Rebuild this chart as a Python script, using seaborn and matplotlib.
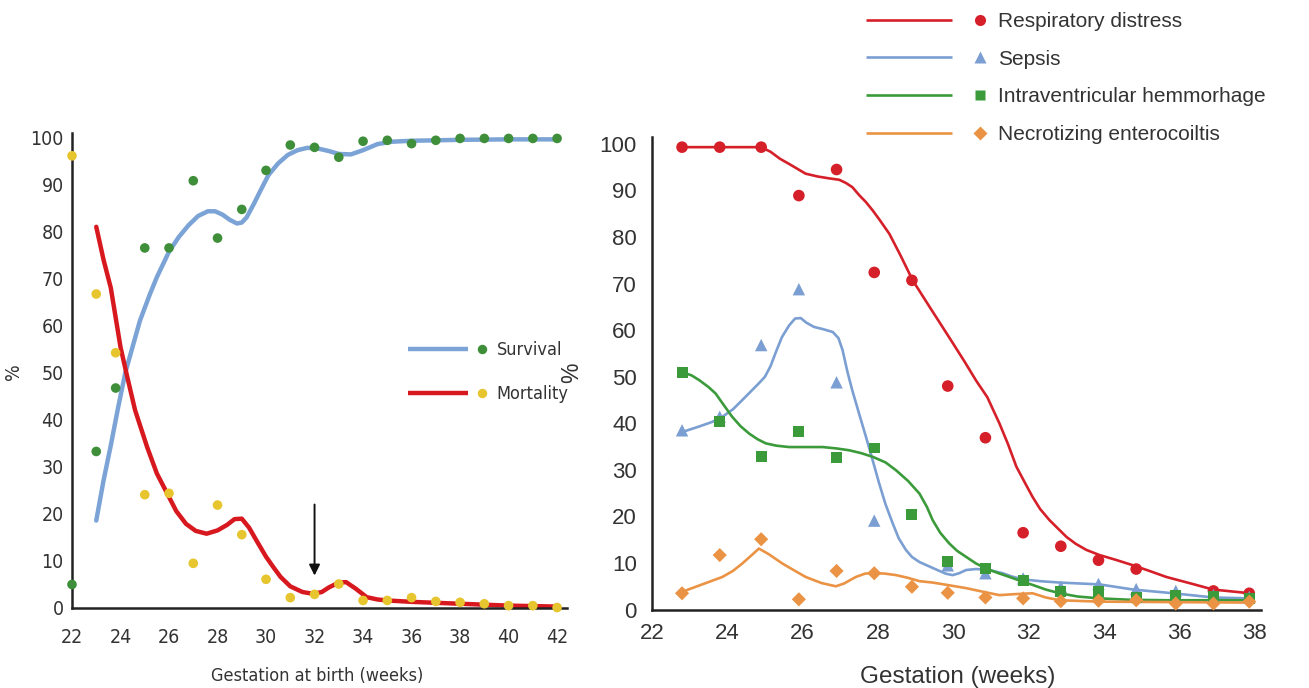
import numpy as np
import matplotlib
matplotlib.use("Agg")
import matplotlib.pyplot as plt
from matplotlib.lines import Line2D
from matplotlib.legend_handler import HandlerBase
from matplotlib import font_manager
import seaborn as sns

# ---- left panel: survival / mortality by gestation at birth
birth_weeks = [22, 23, 23.8, 25, 26, 27, 28, 29, 30, 31, 32, 33, 34, 35, 36, 37, 38, 39, 40, 41, 42]
survival_pts = [4.9, 33.2, 46.7, 76.5, 76.5, 90.8, 78.6, 84.7, 93.0, 98.4, 97.9, 95.8, 99.2, 99.4,
                98.7, 99.4, 99.8, 99.8, 99.8, 99.8, 99.8]
mortality_pts = [96.1, 66.7, 54.2, 24.0, 24.3, 9.4, 21.8, 15.5, 6.0, 2.1, 2.8, 5.0, 1.5, 1.5,
                 2.1, 1.3, 1.1, 0.8, 0.4, 0.4, 0.0]

# fitted curves, traced by eye
survival_fit_x = [23.0, 23.3, 23.6, 23.9, 24.2, 24.5, 24.8, 25.2, 25.5, 26.0, 26.4, 26.8, 27.2, 27.6,
                  27.9, 28.2, 28.5, 28.8, 29.0, 29.2, 29.5, 29.8, 30.1, 30.5, 30.9, 31.3, 31.7, 32.1,
                  32.6, 33.0, 33.5, 34.0, 34.6, 35.2, 36.0, 37.0, 38.0, 40.0, 42.0]
survival_fit_y = [18.5, 27.0, 34.5, 42.5, 50.0, 55.5, 61.0, 66.5, 70.3, 75.7, 78.8, 81.3, 83.3, 84.3,
                  84.3, 83.6, 82.5, 81.7, 81.9, 83.0, 85.9, 89.0, 92.0, 94.5, 96.3, 97.3, 97.8, 97.7,
                  97.1, 96.5, 96.4, 97.3, 98.6, 99.1, 99.3, 99.4, 99.5, 99.6, 99.6]
mortality_fit_x = [23.0, 23.3, 23.6, 24.0, 24.25, 24.6, 25.1, 25.5, 26.0, 26.3, 26.7, 27.1, 27.55,
                   28.0, 28.4, 28.7, 29.0, 29.3, 29.6, 30.0, 30.3, 30.6, 31.0, 31.5, 31.95, 32.3,
                   32.6, 33.0, 33.3, 33.7, 34.15, 34.6, 35.0, 36.0, 37.0, 38.0, 40.0, 42.0]
mortality_fit_y = [81.0, 74.0, 68.0, 55.4, 49.7, 42.0, 34.1, 28.5, 23.5, 20.5, 17.8, 16.3, 15.7,
                   16.4, 17.6, 18.8, 18.9, 17.0, 14.3, 10.8, 8.6, 6.5, 4.5, 3.3, 2.9, 3.3,
                   4.3, 5.3, 5.4, 4.0, 2.2, 1.7, 1.5, 1.2, 1.0, 0.8, 0.4, 0.2]
arrow_week = 32
arrow_from, arrow_to = 22.5, 6.2

# ---- right panel: morbidity by gestation
gest_weeks = [22.8, 23.8, 24.9, 25.9, 26.9, 27.9, 28.9, 29.85, 30.85, 31.85, 32.85, 33.85, 34.85,
              35.9, 36.9, 37.85]
resp_pts = [99.3, 99.3, 99.3, 88.9, 94.5, 72.4, 70.7, 48.0, 36.9, 16.5, 13.6, 10.6, 8.7, np.nan, 4.0, 3.5]
sepsis_pts = [38.5, 41.4, 56.8, 68.8, 48.8, 19.1, np.nan, 9.5, 7.8, 6.7, 4.9, 5.5, 4.4, 4.0, 3.1, 2.7]
ivh_pts = [51.0, 40.3, 32.8, 38.3, 32.6, 34.7, 20.5, 10.4, 8.8, 6.3, 3.8, 3.8, 2.6, 3.1, 2.8, 2.4]
nec_pts = [3.5, 11.7, 15.1, 2.2, 8.3, 7.8, 4.9, 3.6, 2.6, 2.4, 1.8, 1.9, 2.0, 1.3, 1.3, 1.7]

resp_fit_x = [22.83, 23.8, 24.9, 25.15, 25.4, 25.64, 25.85, 26.08, 26.4, 26.7, 26.97, 27.15, 27.32,
              27.5, 27.68, 27.86, 28.05, 28.3, 28.6, 28.92, 29.4, 29.9, 30.3, 30.6, 30.9, 31.22,
              31.45, 31.67, 31.9, 32.1, 32.3, 32.55, 32.8, 33.0, 33.25, 33.53, 33.88, 34.3, 34.77,
              35.2, 35.65, 36.3, 36.89, 37.87]
resp_fit_y = [99.3, 99.3, 99.3, 98.3, 96.8, 95.7, 94.7, 93.6, 93.0, 92.6, 92.3, 91.6, 90.7,
              89.0, 87.5, 85.7, 83.6, 80.7, 76.0, 70.7, 64.6, 58.3, 53.2, 49.2, 45.6, 40.0,
              35.5, 30.7, 27.2, 24.2, 21.6, 19.2, 17.2, 15.6, 14.1, 12.8, 11.7, 10.7, 9.5,
              8.3, 7.0, 5.6, 4.3, 3.5]
sepsis_fit_x = [22.83, 23.25, 23.6, 23.87, 24.15, 24.4, 24.62, 24.84, 25.0, 25.15, 25.3, 25.45,
                25.64, 25.8, 25.95, 26.1, 26.3, 26.55, 26.8, 26.95, 27.06, 27.19, 27.32, 27.5,
                27.68, 27.86, 28.03, 28.2, 28.39, 28.55, 28.74, 28.9, 29.1, 29.35, 29.6, 29.8,
                29.98, 30.15, 30.34, 30.6, 30.87, 31.1, 31.31, 31.55, 31.84, 32.3, 32.82, 33.88,
                34.77, 35.83, 36.89, 37.87]
sepsis_fit_y = [38.2, 39.3, 40.3, 41.4, 43.0, 45.0, 46.8, 48.6, 50.0, 52.3, 55.5, 58.5,
                61.0, 62.5, 62.6, 61.6, 60.7, 60.2, 59.6, 58.3, 55.7, 51.0, 47.0, 42.0,
                37.1, 32.0, 27.1, 22.6, 18.5, 15.3, 12.8, 11.3, 10.2, 9.3, 8.4, 7.7,
                7.4, 7.8, 8.5, 8.7, 8.6, 8.2, 7.8, 7.1, 6.5, 6.1, 5.8, 5.4,
                4.3, 3.5, 2.6, 2.4]
ivh_fit_x = [22.8, 23.05, 23.25, 23.5, 23.69, 23.9, 24.13, 24.35, 24.58, 24.8, 25.02, 25.3, 25.64,
             26.1, 26.53, 26.9, 27.24, 27.55, 27.86, 28.2, 28.48, 28.8, 29.1, 29.3, 29.45, 29.65,
             29.89, 30.1, 30.34, 30.6, 30.87, 31.2, 31.49, 31.8, 32.1, 32.45, 32.82, 33.3, 33.88,
             34.7, 35.65, 37.87]
ivh_fit_y = [51.0, 50.3, 49.3, 47.8, 46.4, 44.0, 41.4, 39.4, 37.8, 36.6, 35.7, 35.2, 34.9,
             34.9, 34.9, 34.6, 34.2, 33.6, 32.8, 31.6, 29.9, 27.6, 24.9, 22.0, 19.2, 16.5,
             14.2, 12.6, 11.3, 9.9, 8.8, 7.8, 7.0, 6.1, 5.3, 4.3, 3.5, 2.8, 2.4,
             2.1, 2.0, 2.0]
nec_fit_x = [22.8, 23.3, 23.87, 24.15, 24.4, 24.65, 24.84, 25.1, 25.46, 25.8, 26.08, 26.5, 26.88,
             27.1, 27.41, 27.65, 27.86, 28.2, 28.48, 28.8, 29.1, 29.45, 29.9, 30.34, 30.8, 31.22,
             31.6, 32.1, 32.45, 32.82, 33.88, 37.87]
nec_fit_y = [3.8, 5.3, 7.0, 8.3, 9.9, 11.7, 13.1, 11.9, 9.9, 8.3, 7.0, 5.7, 5.0,
             5.6, 7.0, 7.7, 7.9, 7.7, 7.4, 6.8, 6.1, 5.8, 5.2, 4.6, 3.8, 3.1,
             3.3, 3.5, 2.6, 2.0, 1.7, 1.5]

right_labels = ["Respiratory distress", "Sepsis", "Intraventricular hemmorhage", "Necrotizing enterocoiltis"]

sns.set_style("white")
REGULAR = ["Liberation Sans", "DejaVu Sans"]
plt.rcParams["font.family"] = REGULAR
TXT = "#333333"


def narrow(size):
    # condensed face for the left panel
    return font_manager.FontProperties(family=["DejaVu Sans"], stretch="condensed", size=size)


class LineDotHandler(HandlerBase):
    """legend entry drawn as a line segment followed by a separate marker"""

    def __init__(self, line_frac, dot_frac):
        super().__init__()
        self.line_frac = line_frac
        self.dot_frac = dot_frac

    def create_artists(self, legend, orig_handle, xdescent, ydescent, width, height, fontsize, trans):
        line, dot = orig_handle
        y = height / 2 - ydescent
        x0 = -xdescent
        seg = Line2D([x0, x0 + width * self.line_frac], [y, y], color=line.get_color(),
                     lw=line.get_linewidth(), solid_capstyle="butt")
        mk = Line2D([x0 + width * self.dot_frac], [y], ls="none", marker=dot.get_marker(),
                    markerfacecolor=dot.get_markerfacecolor(), markeredgecolor="none",
                    markersize=dot.get_markersize())
        seg.set_transform(trans)
        mk.set_transform(trans)
        return [seg, mk]


def style_axes(ax, xpad, ypad, size, fprop=None):
    sns.despine(ax=ax)
    for side in ["left", "bottom"]:
        ax.spines[side].set_color("#222222")
        ax.spines[side].set_linewidth(1.8)
    ax.tick_params(axis="x", length=0, pad=xpad, labelsize=size, labelcolor=TXT)
    ax.tick_params(axis="y", length=0, pad=ypad, labelsize=size, labelcolor=TXT)
    if fprop is not None:
        for lab in ax.get_xticklabels() + ax.get_yticklabels():
            lab.set_fontproperties(fprop)
    ax.grid(False)


fig = plt.figure(figsize=(13.09, 6.88), dpi=100)

# ---------------- left panel
axL = fig.add_axes([0.055, 0.117, 0.378, 0.690])
blueL, redL, greenL, yellowL = "#7ba3d6", "#d7191f", "#3f8f3a", "#e6c52e"
sns.lineplot(x=survival_fit_x, y=survival_fit_y, color=blueL, lw=3.2, estimator=None, sort=False, ax=axL)
sns.lineplot(x=mortality_fit_x, y=mortality_fit_y, color=redL, lw=3.2, estimator=None, sort=False, ax=axL)
sns.scatterplot(x=birth_weeks, y=survival_pts, color=greenL, s=48, edgecolor="none", zorder=5,
                clip_on=False, ax=axL)
sns.scatterplot(x=birth_weeks, y=mortality_pts, color=yellowL, s=48, edgecolor="none", zorder=5,
                clip_on=False, ax=axL)
axL.annotate("", xy=(arrow_week, arrow_to), xytext=(arrow_week, arrow_from),
             arrowprops=dict(arrowstyle="-|>", color="#111111", lw=1.4, mutation_scale=16))
axL.set_xlim(22, 42.4)
axL.set_ylim(0, 101)
axL.set_xticks(range(22, 43, 2))
axL.set_yticks(range(0, 101, 10))
style_axes(axL, 14.4, 6, 14, narrow(14))
axL.set_xlabel("Gestation at birth (weeks)", fontproperties=narrow(13), color=TXT)
axL.set_ylabel("%", fontproperties=narrow(14), color=TXT)
axL.xaxis.set_label_coords(0.495, -0.125)
axL.yaxis.set_label_coords(-0.099, 0.496)

hL = [(Line2D([], [], color=blueL, lw=3.2), Line2D([], [], marker="o", ls="none", markerfacecolor=greenL, markersize=6.8)),
      (Line2D([], [], color=redL, lw=3.2), Line2D([], [], marker="o", ls="none", markerfacecolor=yellowL, markersize=6.8))]
legL = fig.legend(hL, ["Survival", "Mortality"], loc="center left", bbox_to_anchor=(408 / 1309, 1 - 372 / 688),
                  frameon=False, borderpad=0, borderaxespad=0, handlelength=4.3, handletextpad=0.6,
                  labelspacing=1.45, handler_map={tuple: LineDotHandler(0.77, 0.947)},
                  prop=narrow(13))
for t in legL.get_texts():
    t.set_color(TXT)

# ---------------- right panel
axR = fig.add_axes([0.498, 0.114, 0.465, 0.687])
redR, blueR, greenR, orangeR = "#d5202a", "#7b9fd2", "#3b9b3b", "#eb9344"
for fx, fy, c in [(resp_fit_x, resp_fit_y, redR), (sepsis_fit_x, sepsis_fit_y, blueR),
                  (ivh_fit_x, ivh_fit_y, greenR), (nec_fit_x, nec_fit_y, orangeR)]:
    sns.lineplot(x=fx, y=fy, color=c, lw=1.9, estimator=None, sort=False, ax=axR)
for pts, c, m, s in [(resp_pts, redR, "o", 70), (sepsis_pts, blueR, "^", 80),
                     (ivh_pts, greenR, "s", 62), (nec_pts, orangeR, "D", 52)]:
    sns.scatterplot(x=gest_weeks, y=pts, color=c, marker=m, s=s, edgecolor="none", zorder=5,
                    clip_on=False, ax=axR)
axR.set_xlim(22, 38.15)
axR.set_ylim(0, 101.5)
axR.set_xticks(range(22, 39, 2))
axR.set_yticks(range(0, 101, 10))
style_axes(axR, 9.7, 10.8, 16)
axR.set_xlabel("Gestation (weeks)", fontsize=17.5, color=TXT)
axR.set_ylabel("%", fontsize=16.5, color=TXT)
axR.xaxis.set_label_coords(0.503, -0.12)
axR.yaxis.set_label_coords(-0.113, 0.5)

hR = []
for c, m, ms in [(redR, "o", 8), (blueR, "^", 8.5), (greenR, "s", 7.5), (orangeR, "D", 7)]:
    hR.append((Line2D([], [], color=c, lw=1.9), Line2D([], [], marker=m, ls="none", markerfacecolor=c, markersize=ms)))
legR = fig.legend(hR, right_labels, loc="center left", bbox_to_anchor=(866 / 1309, 1 - 78 / 688),
                  frameon=False, borderpad=0, borderaxespad=0, handlelength=5.77, handletextpad=0.58,
                  labelspacing=0.9, handler_map={tuple: LineDotHandler(0.717, 0.95)},
                  prop={"family": REGULAR, "size": 15})
for t in legR.get_texts():
    t.set_color(TXT)

fig.savefig("out.png", dpi=100)
